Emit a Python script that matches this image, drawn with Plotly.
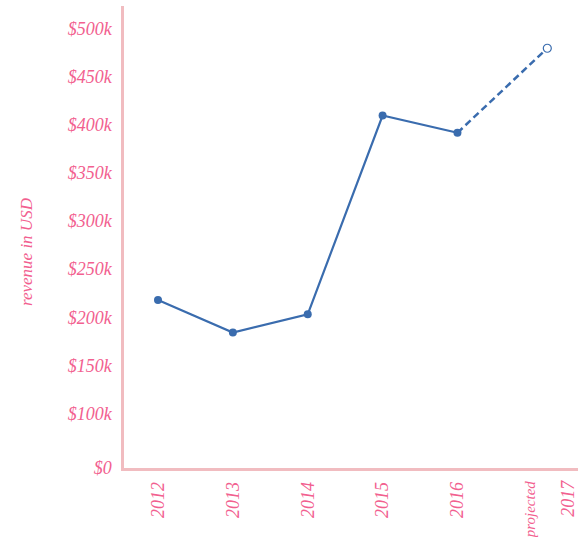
import plotly.graph_objects as go

# Annual revenue (USD); the final year is a projection
years = [2012, 2013, 2014, 2015, 2016, 2017.2]
revenue = [218000, 184000, 203000, 410000, 392000, 480000]
year_labels = ["2012", "2013", "2014", "2015", "2016"]

# Y axis ticks
y_floor = 43000
y_tick_vals = [y_floor, 100000, 150000, 200000, 250000, 300000, 350000, 400000, 450000, 500000]
y_tick_text = ["$0", "$100k", "$150k", "$200k", "$250k", "$300k", "$350k", "$400k", "$450k", "$500k"]

PINK_TEXT = "#f2608f"
PINK_AXIS = "#f1bcc0"
BLUE = "#3a6cae"
FONT = "Liberation Serif"

fig = go.Figure()

# Actual revenue
fig.add_trace(go.Scatter(
    x=years[:5], y=revenue[:5],
    mode="lines+markers",
    line=dict(color=BLUE, width=2.2),
    marker=dict(color=BLUE, size=8),
    showlegend=False, hoverinfo="x+y",
))

# Projection from last actual year
fig.add_trace(go.Scatter(
    x=years[4:], y=revenue[4:],
    mode="lines",
    line=dict(color=BLUE, width=2.5, dash="7px,4px"),
    showlegend=False, hoverinfo="skip",
))
fig.add_trace(go.Scatter(
    x=[years[5]], y=[revenue[5]],
    mode="markers",
    marker=dict(color="white", size=8, line=dict(color=BLUE, width=1.2)),
    showlegend=False, hoverinfo="x+y",
))

tick_font = dict(family=FONT, size=18, color=PINK_TEXT, style="italic")

# Label for the projected year
fig.add_annotation(
    x=years[5], y=0, xref="x", yref="paper",
    text="projected", textangle=-90, showarrow=False,
    xanchor="center", yanchor="top", xshift=-17, yshift=-10,
    font=dict(family=FONT, size=15, color=PINK_TEXT, style="italic"),
)
fig.add_annotation(
    x=years[5], y=0, xref="x", yref="paper",
    text="2017", textangle=-90, showarrow=False,
    xanchor="center", yanchor="top", xshift=20, yshift=-10,
    font=tick_font,
)

# Y axis title
fig.add_annotation(
    x=0, y=0.4675, xref="paper", yref="paper",
    text="revenue in USD", textangle=-90, showarrow=False,
    xanchor="center", yanchor="middle", xshift=-98,
    font=dict(family=FONT, size=17, color=PINK_TEXT, style="italic"),
)

fig.update_layout(
    width=579, height=537,
    margin=dict(l=124, r=1, t=6, b=69),
    paper_bgcolor="white", plot_bgcolor="white",
    xaxis=dict(
        range=[2011.546, 2017.61],
        tickvals=years[:5], ticktext=year_labels,
        tickangle=-90, tickfont=tick_font,
        showgrid=False, zeroline=False,
        showline=True, linecolor=PINK_AXIS, linewidth=2.5,
        ticks="", ticklabelstandoff=4,
    ),
    yaxis=dict(
        range=[y_floor, 524000],
        tickvals=y_tick_vals, ticktext=y_tick_text,
        tickfont=tick_font,
        showgrid=False, zeroline=False,
        showline=True, linecolor=PINK_AXIS, linewidth=2.5,
        ticks="", ticklabelstandoff=6,
    ),
)

fig.write_html("out.html")
